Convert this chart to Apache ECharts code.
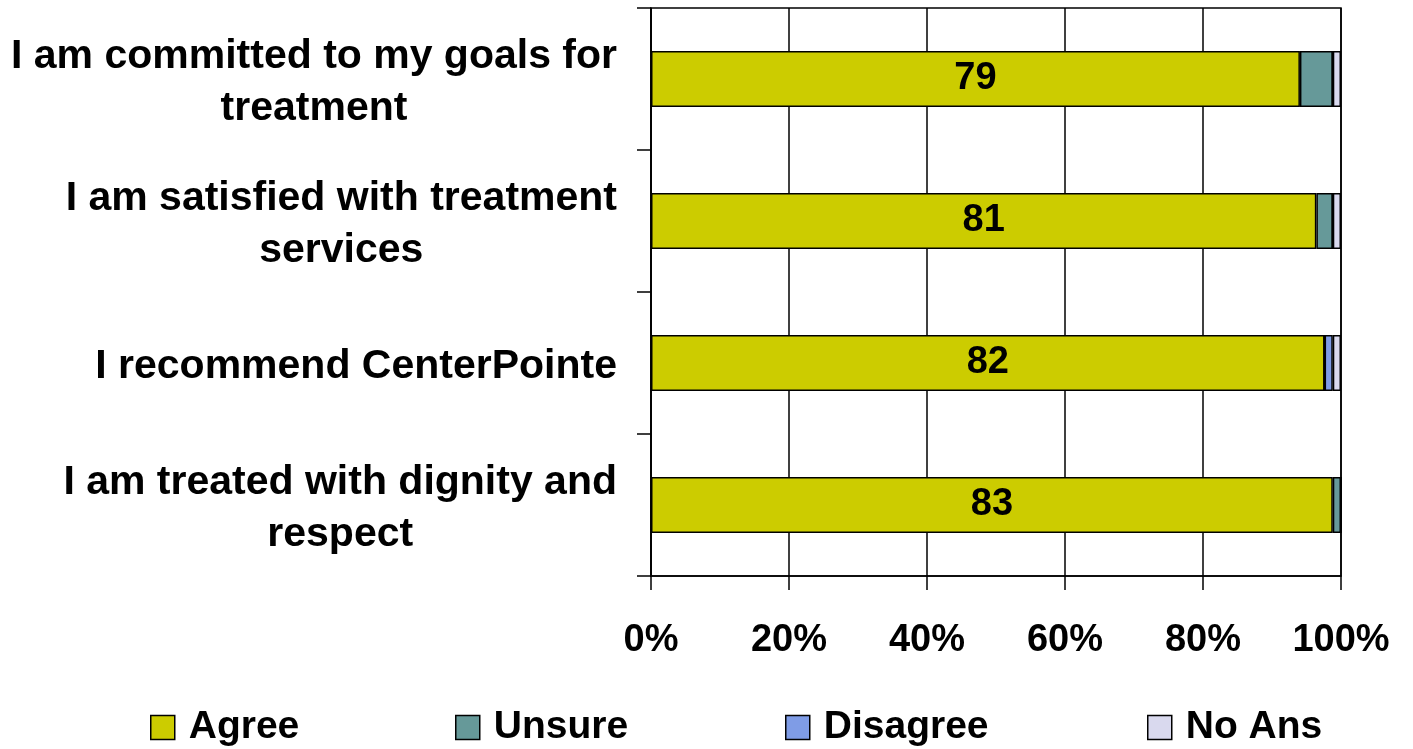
<!DOCTYPE html>
<html>
<head>
<meta charset="utf-8">
<script src="https://cdn.jsdelivr.net/npm/echarts@6/dist/echarts.min.js"></script>
<style>
html,body{margin:0;padding:0;background:#fff;}
#chart{width:1413px;height:749px;}
</style>
</head>
<body>
<div id="chart"></div>
<script>
var categories = [
  'I am committed to my goals for\ntreatment',
  'I am satisfied with treatment\nservices',
  'I recommend CenterPointe',
  'I am treated with dignity and\nrespect'
];
var seriesNames = ['Agree', 'Unsure', 'Disagree', 'No Ans'];
var agree = [79, 81, 82, 83];
var unsure = [4, 2, 0, 1];
var disagree = [0, 0, 1, 0];
var noAns = [1, 1, 1, 0];
var xTickLabels = ['0%', '20%', '40%', '60%', '80%', '100%'];
var colors = ['#CCCC00', '#669999', '#7F9CE6', '#D9D9EE'];

var counts = [agree, unsure, disagree, noAns];
var totals = categories.map(function (c, i) {
  return agree[i] + unsure[i] + disagree[i] + noAns[i];
});
var FONT = '"Liberation Sans", Arial, sans-serif';

var series = counts.map(function (arr, s) {
  return {
    name: seriesNames[s],
    type: 'bar',
    stack: 'total',
    barWidth: 56,
    itemStyle: { color: colors[s], borderColor: '#000', borderWidth: 1.5 },
    label: s === 0 ? {
      show: true, position: 'inside', color: '#000',
      fontSize: 38, fontWeight: 'bold', fontFamily: FONT,
      formatter: function (p) { return agree[p.dataIndex]; }
    } : { show: false },
    data: arr.map(function (v, i) { return v / totals[i] * 100; })
  };
});

var legendLefts = [145, 450, 780, 1142];
var legends = seriesNames.map(function (n, i) {
  return {
    data: [n], left: legendLefts[i], top: 703,
    itemWidth: 24, itemHeight: 24, icon: 'rect',
    itemStyle: { borderColor: '#000', borderWidth: 1.5 },
    textStyle: { fontSize: 39, fontWeight: 'bold', color: '#000', fontFamily: FONT, padding: [0, 0, 0, 9] },
    selectedMode: false
  };
});

var chart = echarts.init(document.getElementById('chart'), null, { renderer: 'canvas' });
chart.setOption({
  animation: false,
  backgroundColor: '#fff',
  grid: { left: 651, right: 72, top: 8, bottom: 173, show: true, borderColor: '#000', borderWidth: 1.5, backgroundColor: 'transparent' },
  legend: legends,
  xAxis: {
    type: 'value', min: 0, max: 100, interval: 20,
    axisLine: { show: true, lineStyle: { color: '#000', width: 1.5 } },
    axisTick: { show: true, length: 14, lineStyle: { color: '#000', width: 1.5 } },
    splitLine: { show: true, lineStyle: { color: '#000', width: 1.5 } },
    axisLabel: {
      margin: 46, color: '#000', fontSize: 38, fontWeight: 'bold', fontFamily: FONT,
      formatter: function (v) { return xTickLabels[Math.round(v / 20)]; }
    }
  },
  yAxis: {
    type: 'category', inverse: true, data: categories,
    axisLine: { show: true, lineStyle: { color: '#000', width: 1.5 } },
    axisTick: { show: true, length: 14, lineStyle: { color: '#000', width: 1.5 } },
    splitLine: { show: false },
    axisLabel: {
      margin: 34, align: 'right', color: '#000', fontFamily: FONT,
      padding: [8, 0, 0, 0],
      formatter: function (v) {
        return v.split('\n').map(function (l) { return '{a|' + l + '}'; }).join('\n');
      },
      rich: { a: { fontSize: 41, fontWeight: 'bold', color: '#000', fontFamily: FONT, align: 'center', lineHeight: 52 } }
    }
  },
  series: series
});
</script>
</body>
</html>
